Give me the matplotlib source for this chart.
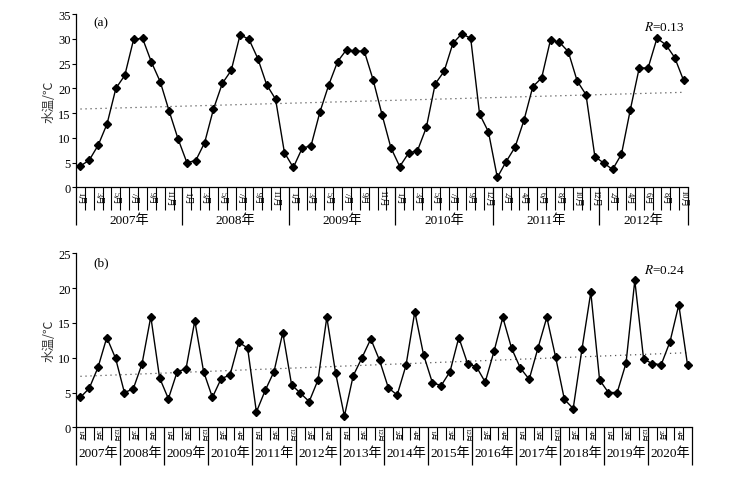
import numpy as np
import matplotlib
matplotlib.use('Agg')
import matplotlib.pyplot as plt
from matplotlib.transforms import blended_transform_factory

# ---------------- data ----------------
top_values = [4.3, 5.5, 8.5, 12.8, 20.0, 22.6, 29.9, 30.1, 25.3, 21.3, 15.4, 9.8,
              5.0, 5.4, 9.0, 15.8, 21.0, 23.6, 30.8, 29.9, 26.0, 20.7, 17.8, 7.0,
              4.0, 7.9, 8.4, 15.2, 20.7, 25.4, 27.8, 27.5, 27.5, 21.7, 14.7, 8.0,
              4.2, 6.9, 7.4, 12.1, 20.9, 23.4, 29.1, 31.0, 30.1, 14.8, 11.2,
              2.0, 5.2, 8.1, 13.5, 20.3, 22.1, 29.8, 29.3, 27.4, 21.5, 18.7, 6.2,
              4.9, 3.6, 6.7, 15.7, 24.1, 24.1, 30.1, 28.8, 26.2, 21.6]
top_years = [2007, 2008, 2009, 2010, 2011, 2012]
top_months = [[1, 2, 3, 4, 5, 6, 7, 8, 9, 10, 11, 12],
              [1, 2, 3, 4, 5, 6, 7, 8, 9, 10, 11, 12],
              [1, 2, 3, 4, 5, 6, 7, 8, 9, 10, 11, 12],
              [1, 2, 3, 4, 5, 6, 7, 8, 9, 10, 12],
              [1, 2, 3, 4, 5, 6, 7, 8, 9, 10, 11, 12],
              [1, 2, 3, 4, 5, 6, 7, 8, 9, 10]]
top_r = "0.13"

bottom_values = [4.3, 5.6, 8.6, 12.9, 9.9,
                 5.0, 5.5, 9.1, 15.9, 7.1,
                 4.1, 8.0, 8.4, 15.3, 8.0,
                 4.3, 7.0, 7.5, 12.2, 11.4,
                 2.2, 5.3, 8.0, 13.6, 6.1,
                 4.9, 3.7, 6.8, 15.8, 7.8,
                 1.6, 7.4, 10.0, 12.7, 9.6,
                 5.65, 4.65, 8.9, 16.6, 10.4,
                 6.4, 6.0, 8.0, 12.9, 9.15,
                 8.7, 6.5, 10.9, 15.8, 11.35,
                 8.5, 6.9, 11.4, 15.8, 10.1,
                 4.0, 2.7, 11.25, 19.4, 6.8,
                 5.0, 5.0, 9.2, 21.1, 9.8,
                 9.15, 9.0, 12.3, 17.6, 8.9]
bottom_years = [2007, 2008, 2009, 2010, 2011, 2012, 2013,
                2014, 2015, 2016, 2017, 2018, 2019, 2020]
bottom_months = [[1, 2, 3, 4, 12]] * 14
bottom_r = "0.24"

# ---------------- style ----------------
SERIF_CJK = ['Liberation Serif', 'Noto Sans CJK SC']
plt.rcParams['font.family'] = SERIF_CJK
plt.rcParams['mathtext.fontset'] = 'stix'

W, H = 729, 481
fig = plt.figure(figsize=(W / 100, H / 100), dpi=100)

ax1 = fig.add_axes([76 / W, 1 - 188.3 / H, 612 / W, 173.3 / H])
ax2 = fig.add_axes([76 / W, 1 - 428.3 / H, 616 / W, 174 / H])


def draw(ax, values, years, months, ymax, tag, rtext, rpos,
         minor_len, month_fs, month_off, year_off):
    n = len(values)
    x = np.arange(n)
    ax.plot(x, values, color='black', lw=1.0, marker='D', ms=4.3,
            mfc='black', mec='black', zorder=3, clip_on=False)
    coef = np.polyfit(x, values, 1)
    ax.plot(x, np.polyval(coef, x), color='#555555', lw=0.9,
            ls=(0, (1, 3)), zorder=2)

    ax.set_xlim(-0.5, n - 0.5)
    ax.set_ylim(0, ymax)
    ax.set_yticks(np.arange(0, ymax + 1, 5))
    for s in ('top', 'right'):
        ax.spines[s].set_visible(False)
    for s in ('left', 'bottom'):
        ax.spines[s].set_linewidth(0.9)
    ax.tick_params(axis='y', direction='out', length=3, width=0.8, pad=1,
                   labelsize=9)

    counts = [len(m) for m in months]
    bounds = np.concatenate([[0], np.cumsum(counts)]) - 0.5
    ax.set_xticks(bounds)
    ax.set_xticks(np.arange(n + 1) - 0.5, minor=True)
    ax.tick_params(axis='x', which='major', length=27, width=0.9,
                   labelbottom=False)
    ax.tick_params(axis='x', which='minor', length=minor_len, width=0.8)

    trans = blended_transform_factory(ax.transData, ax.transAxes)
    flat_months = [m for ms in months for m in ms]
    for i, m in enumerate(flat_months):
        if i % 2 == 0:
            ax.annotate(f"{m}月", xy=(i, 0), xycoords=trans,
                        xytext=(0, -month_off), textcoords='offset points',
                        rotation=270, ha='center', va='center',
                        fontsize=month_fs, family=SERIF_CJK)
    for k, y in enumerate(years):
        c = (bounds[k] + bounds[k + 1]) / 2
        ax.annotate(f"{y}年", xy=(c, 0), xycoords=trans,
                    xytext=(0, -year_off), textcoords='offset points',
                    ha='center', va='center', fontsize=9.5, family=SERIF_CJK)

    ax.text(0.028, 0.95, tag, transform=ax.transAxes, ha='left',
            va='center', fontsize=9.5)
    ax.text(rpos[0], rpos[1], r"$R$=" + rtext, transform=ax.transAxes,
            ha='left', va='center', fontsize=9.5)
    ax.annotate("水温/℃", xy=(0, 0.5), xycoords='axes fraction',
                xytext=(-14.5, 0), textcoords='offset points', rotation=90,
                ha='right', va='center', fontsize=9, color='#333333',
                family=['Noto Sans CJK SC', 'DejaVu Sans'])


draw(ax1, top_values, top_years, top_months, 35, "(a)", top_r,
     (0.928, 0.927), 16.5, 6.0, 7.5, 23.0)
draw(ax2, bottom_values, bottom_years, bottom_months, 25, "(b)", bottom_r,
     (0.922, 0.905), 9.4, 5.0, 5.0, 18.0)

fig.savefig("out.png", dpi=100)
